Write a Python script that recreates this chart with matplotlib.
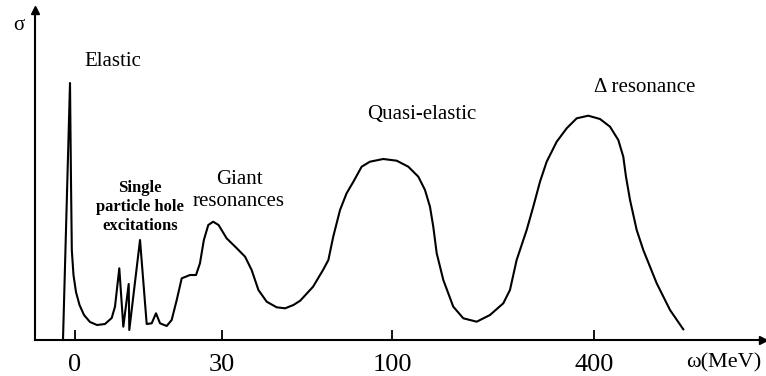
import matplotlib.pyplot as plt
import numpy as np

plt.rcParams['font.family'] = ['Liberation Serif', 'DejaVu Serif']

# Schematic energy axis: tick energies and where they sit along the axis
tick_mev = [0, 30, 100, 400]
tick_pos = [75, 222, 392, 594]
tick_labels = ["0", "30", "100", "400"]

# Sketched response curve: energy transfer (MeV) and cross section (arb. units)
omega = [-2.45, -1.02, -0.82, -0.65, -0.31, 0.20, 0.92, 1.84, 3.06, 4.49,
         6.12, 7.49, 8.16, 9.04, 9.86, 10.96, 11.08, 13.27, 14.63, 15.65,
         16.53, 17.35, 18.71, 19.73, 20.76, 21.78, 23.47, 24.7, 25.5, 26.3,
         27.2, 28.2, 29.3, 31.9, 36.1, 39.5, 42.2, 45.0, 48.4, 52.5,
         56.0, 59.4, 62.2, 67.5, 71.6, 73.8, 75.8, 78.6, 81.3, 84.1,
         87.5, 90.9, 96.4, 107.0, 124.2, 139.1, 149.0, 156.4, 161.3, 166.4,
         176.2, 191.0, 205.9, 225.8, 245.5, 265.3, 275.2, 285.1, 300.0, 309.8,
         319.8, 329.7, 344.6, 359.4, 374.3, 391.5, 408.9, 423.8, 436.1, 443.5,
         447.5, 453.5, 463.4, 473.2, 493.1, 512.9, 532.6]
sigma = [0.0, 2.57, 1.60, 0.90, 0.65, 0.48, 0.35, 0.25, 0.18, 0.15,
         0.16, 0.22, 0.333, 0.717, 0.133, 0.56, 0.10, 1.0, 0.16, 0.167,
         0.267, 0.167, 0.14, 0.20, 0.40, 0.617, 0.65, 0.65, 0.767, 1.0,
         1.15, 1.183, 1.15, 1.017, 0.917, 0.833, 0.70, 0.50, 0.383, 0.327,
         0.317, 0.35, 0.393, 0.533, 0.70, 0.80, 1.033, 1.30, 1.467, 1.583,
         1.733, 1.783, 1.81, 1.793, 1.733, 1.633, 1.50, 1.333, 1.133, 0.867,
         0.60, 0.333, 0.217, 0.183, 0.25, 0.367, 0.50, 0.80, 1.10, 1.333,
         1.583, 1.783, 1.983, 2.117, 2.217, 2.243, 2.21, 2.133, 2.00, 1.833,
         1.633, 1.40, 1.10, 0.90, 0.567, 0.30, 0.107]

# Region labels: text, energy, height, weight, size
labels = [
    ("Elastic", 7.8, 2.78, "normal", 15),
    ("Single\nparticle hole\nexcitations", 13.3, 1.33, "bold", 12),
    ("Giant\nresonances", 37.0, 1.495, "normal", 15),
    ("Quasi-elastic", 144.6, 2.25, "normal", 15),
    ("Δ resonance", 475.7, 2.52, "normal", 15),
]

# piecewise-linear mapping, extended linearly past both ends
s_lo = (tick_pos[1] - tick_pos[0]) / (tick_mev[1] - tick_mev[0])
s_hi = (tick_pos[-1] - tick_pos[-2]) / (tick_mev[-1] - tick_mev[-2])


def fwd(w):
    w = np.asarray(w, dtype=float)
    p = np.interp(w, tick_mev, tick_pos)
    p = np.where(w < tick_mev[0], tick_pos[0] + (w - tick_mev[0]) * s_lo, p)
    p = np.where(w > tick_mev[-1], tick_pos[-1] + (w - tick_mev[-1]) * s_hi, p)
    return p


def inv(p):
    p = np.asarray(p, dtype=float)
    w = np.interp(p, tick_pos, tick_mev)
    w = np.where(p < tick_pos[0], tick_mev[0] + (p - tick_pos[0]) / s_lo, w)
    w = np.where(p > tick_pos[-1], tick_mev[-1] + (p - tick_pos[-1]) / s_hi, w)
    return w


W, H = 766, 376
x0, x1 = 35, 763      # axis extent along x (px)
y0, y1 = 340, 10      # axis baseline and top (px from top)
unit = 100.0          # px per sigma unit

fig = plt.figure(figsize=(W / 100, H / 100), dpi=100)
ax = fig.add_axes([x0 / W, (H - y0) / H, (x1 - x0) / W, (y0 - y1) / H])
ax.set_xscale("function", functions=(fwd, inv))
ax.set_xlim(float(inv(x0)), float(inv(x1)))
ax.set_ylim(0, (y0 - y1) / unit)

ax.plot(omega, sigma, color="black", linewidth=1.5, clip_on=False,
        solid_joinstyle="round")

for txt, xv, yv, wt, fs in labels:
    ax.text(xv, yv, txt, ha="center", va="center", fontsize=fs,
            fontweight=wt, linespacing=1.25)

for side in ("top", "right"):
    ax.spines[side].set_visible(False)
for side in ("left", "bottom"):
    ax.spines[side].set_linewidth(1.5)
ax.plot(1, 0, ">", color="black", markersize=6, transform=ax.transAxes,
        clip_on=False)
ax.plot(0, 1, "^", color="black", markersize=6, transform=ax.transAxes,
        clip_on=False)

ax.set_xticks(tick_mev)
ax.set_xticklabels(tick_labels, fontsize=19)
ax.xaxis.set_minor_locator(plt.NullLocator())
ax.tick_params(axis="x", direction="in", length=7, width=1.3, pad=10)
ax.set_yticks([])

fig.text(19 / W, 1 - 26 / H, "σ", ha="center", va="center", fontsize=15)
fig.text(724 / W, 1 - 363 / H, "ω(MeV)", ha="center", va="center",
         fontsize=16)

fig.savefig("out.png", dpi=100)
